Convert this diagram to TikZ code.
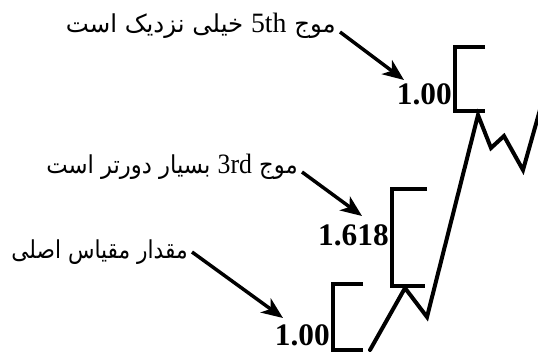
\documentclass[tikz,border=0pt]{standalone}
\usepackage{fontspec}
\setmainfont{Liberation Serif}
\newfontfamily\arabicfont[Script=Arabic]{DejaVu Sans}
\TeXXeTstate=1
\usetikzlibrary{arrows.meta}
\newcommand{\latinpart}[1]{{\rmfamily\fontsize{21pt}{22pt}\selectfont #1}}
\tikzset{
  wave/.style={line width=3pt, line join=miter, line cap=round},
  brk/.style={line width=2.3pt, line join=miter},
  callout/.style={line width=2.6pt, -{Stealth[length=16pt, width=13pt, inset=4.5pt]}},
  num/.style={inner sep=0pt, font=\fontsize{23.5pt}{25pt}\selectfont\bfseries},
  lbl/.style={inner sep=0pt, font=\fontsize{18.5pt}{22pt}\arabicfont},
}
\begin{document}
\begin{tikzpicture}[x=0.75pt,y=-0.75pt]
\useasboundingbox (0,0) rectangle (538,356);
% wave
\draw[wave] (370,350) -- (405,288) -- (427,317) -- (478,115) -- (491,148) -- (504,136) -- (523,170) -- (545,92);
% brackets
\draw[brk] (363,284) -- (333,284) -- (333,350) -- (363,350);
\draw[brk] (427,189) -- (392,189) -- (392,286) -- (425,286);
\draw[brk] (485,47) -- (455,47) -- (455,111) -- (485,111);
% numbers
\node[num, anchor=base east] (n1) at (452,105) {1.00};
\node[num, anchor=base east] (n2) at (389,245) {1.618};
\node[num, anchor=base east] (n3) at (330,345) {1.00};
% labels
\node[lbl, anchor=base east] (t1) at (336,33) {\scalebox{0.99}[1]{\beginR موج \latinpart{5th} خیلی نزدیک است\endR}};
\node[lbl, anchor=base east] (t2) at (298,173) {\scalebox{0.92}[1]{\beginR موج \latinpart{3rd} بسیار دورتر است\endR}};
\node[lbl, anchor=base east] (t3) at (188,258) {\scalebox{0.88}[1]{\beginR مقدار مقیاس اصلی\endR}};
% arrows
\coordinate (a1s) at (340,32);
\coordinate (a1e) at (404,80);
\coordinate (a2s) at (302,172);
\coordinate (a2e) at (362,216);
\coordinate (a3s) at (192,252);
\coordinate (a3e) at (283,318);
\draw[callout] (a1s) -- (a1e);
\draw[callout] (a2s) -- (a2e);
\draw[callout] (a3s) -- (a3e);
\end{tikzpicture}
\end{document}
